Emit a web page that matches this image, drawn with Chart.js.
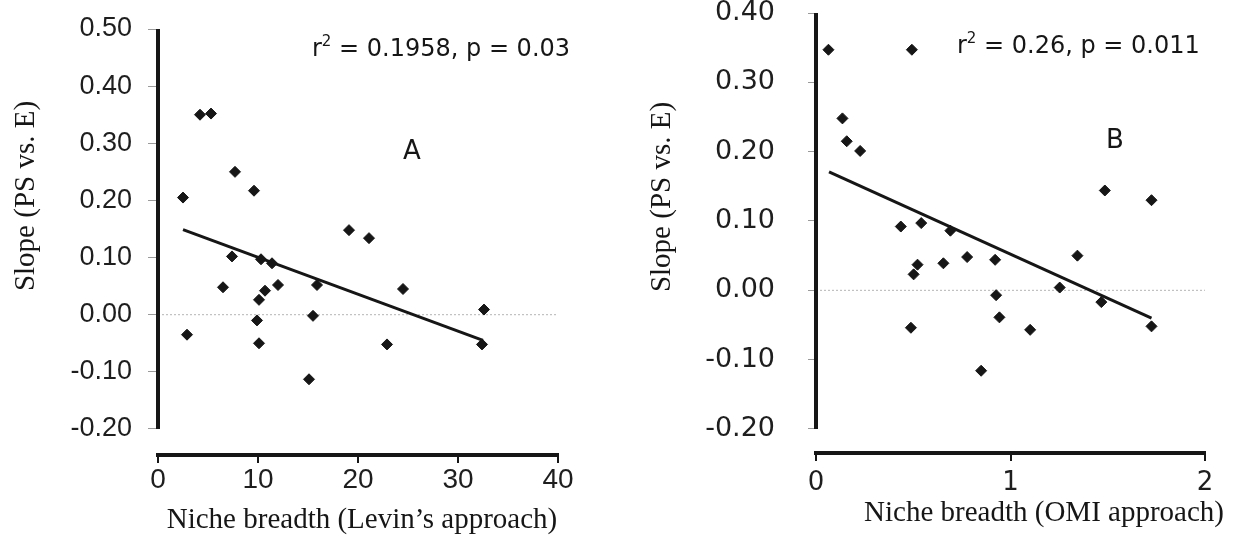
<!DOCTYPE html>
<html>
<head>
<meta charset="utf-8">
<script src="https://cdn.jsdelivr.net/npm/chart.js@4/dist/chart.umd.min.js"></script>
<style>
  html, body { margin: 0; padding: 0; background: #fff; }
  #wrap { position: relative; width: 1244px; height: 539px; overflow: hidden; }
  .panel { position: absolute; top: 0; width: 622px; height: 539px; }
  #panelA { left: 0; }
  #panelB { left: 622px; }
</style>
</head>
<body>
<div id="wrap">
  <div class="panel" id="panelA"><canvas id="chartA"></canvas></div>
  <div class="panel" id="panelB"><canvas id="chartB"></canvas></div>
</div>
<script>
// Panel A: niche breadth (Levin) against the slope of PS vs. E
const levinBreadth = [2.5, 2.9, 4.2, 5.3, 7.7, 9.6, 7.4, 6.5, 10.3, 11.4, 10.7, 10.1,
                      12.0, 9.9, 10.1, 15.9, 15.5, 15.1, 19.1, 21.1, 24.5, 22.9, 32.6, 32.4];
const levinSlope   = [0.205, -0.035, 0.350, 0.352, 0.250, 0.217, 0.102, 0.048, 0.097, 0.090, 0.042, 0.026,
                      0.052, -0.010, -0.050, 0.052, -0.002, -0.113, 0.148, 0.134, 0.045, -0.052, 0.009, -0.052];
const levinFitX = [2.5, 32.5];
const levinFitY = [0.149, -0.045];
const levinTicksX = [0, 10, 20, 30, 40];
const levinTicksY = [-0.2, -0.1, 0, 0.1, 0.2, 0.3, 0.4, 0.5];

// Panel B: niche breadth (OMI) against the slope of PS vs. E
const omiBreadth = [0.064, 0.493, 0.136, 0.158, 0.227, 0.436, 0.541, 0.691, 0.522, 0.502, 0.655, 0.777,
                    0.921, 0.926, 0.943, 0.488, 0.849, 1.101, 1.253, 1.344, 1.485, 1.725, 1.467, 1.725];
const omiSlope   = [0.347, 0.347, 0.248, 0.215, 0.201, 0.092, 0.097, 0.086, 0.037, 0.023, 0.039, 0.048,
                    0.044, -0.007, -0.039, -0.054, -0.116, -0.057, 0.004, 0.050, 0.144, 0.130, -0.017, -0.052];
const omiFitX = [0.067, 1.725];
const omiFitY = [0.171, -0.040];
const omiTicksX = [0, 1, 2];
const omiTicksY = [-0.2, -0.1, 0, 0.1, 0.2, 0.3, 0.4];

const INK = '#161616';

// Free text (axis titles, statistics, panel letter) drawn on top of the chart
function textPlugin(items) {
  return {
    id: 'panelText',
    afterDraw(chart) {
      const ctx = chart.ctx;
      items.forEach(it => {
        ctx.save();
        ctx.fillStyle = INK;
        ctx.translate(it.x, it.y);
        if (it.rotate) ctx.rotate(it.rotate);
        ctx.textBaseline = it.baseline || 'alphabetic';
        if (it.segments) {
          // inline superscript support
          let total = 0;
          it.segments.forEach(s => { ctx.font = s.font; total += ctx.measureText(s.t).width; });
          let cx = it.align === 'center' ? -total / 2 : 0;
          ctx.textAlign = 'left';
          it.segments.forEach(s => {
            ctx.font = s.font;
            ctx.fillText(s.t, cx, s.dy || 0);
            cx += ctx.measureText(s.t).width;
          });
        } else {
          ctx.font = it.font;
          ctx.textAlign = it.align || 'left';
          ctx.fillText(it.text, 0, 0);
        }
        ctx.restore();
      });
    }
  };
}

// Vertical axis line spanning only the labelled range
function yAxisLinePlugin(lo, hi) {
  return {
    id: 'yAxisLine',
    afterDraw(chart) {
      const y = chart.scales.y, a = chart.chartArea, ctx = chart.ctx;
      ctx.save();
      ctx.strokeStyle = INK;
      ctx.lineWidth = 4;
      ctx.beginPath();
      ctx.moveTo(a.left, y.getPixelForValue(hi));
      ctx.lineTo(a.left, y.getPixelForValue(lo));
      ctx.stroke();
      ctx.restore();
    }
  };
}

function buildPanel(canvasId, p) {
  const points = p.xs.map((x, i) => ({ x, y: p.ys[i] }));
  const fit = p.fitX.map((x, i) => ({ x, y: p.fitY[i] }));
  const zero = [{ x: p.ticksX[0], y: 0 }, { x: p.ticksX[p.ticksX.length - 1], y: 0 }];
  const yLo = p.ticksY[0], yHi = p.ticksY[p.ticksY.length - 1];

  return new Chart(document.getElementById(canvasId), {
    type: 'scatter',
    data: {
      datasets: [
        {
          data: points, order: 0,
          pointStyle: 'rectRot', pointRadius: 5.5, pointHoverRadius: 5.5,
          pointBackgroundColor: INK, pointBorderColor: INK, pointBorderWidth: 1
        },
        {
          data: fit, order: 1, showLine: true, pointRadius: 0,
          borderColor: INK, borderWidth: 3
        },
        {
          data: zero, order: 2, showLine: true, pointRadius: 0,
          borderColor: '#b4b4b4', borderWidth: 1, borderDash: [2, 2]
        }
      ]
    },
    options: {
      responsive: true,
      maintainAspectRatio: false,
      animation: false,
      events: [],
      layout: { padding: { left: 0, top: p.top, right: p.padRight, bottom: 0 } },
      plugins: { legend: { display: false }, tooltip: { enabled: false } },
      scales: {
        x: {
          type: 'linear',
          min: p.ticksX[0], max: p.ticksX[p.ticksX.length - 1],
          afterBuildTicks: s => { s.ticks = p.ticksX.map(v => ({ value: v })); },
          afterFit: s => { s.height = 539 - p.bottom; s.paddingLeft = 0; s.paddingRight = 0; },
          border: { display: true, color: INK, width: 4 },
          grid: { drawOnChartArea: false, drawTicks: true, tickLength: 8, color: INK, lineWidth: 2 },
          ticks: {
            autoSkip: false, maxRotation: 0, padding: p.xPad, color: '#1e1e1e',
            font: { family: p.tickFont, size: p.xTickSize },
            callback: v => String(v)
          }
        },
        y: {
          type: 'linear',
          min: p.yMin, max: yHi,
          afterBuildTicks: s => { s.ticks = p.ticksY.map(v => ({ value: v })); },
          afterFit: s => { s.width = p.left; s.paddingTop = 0; s.paddingBottom = 0; },
          border: { display: false },
          grid: { drawOnChartArea: false, drawTicks: true, tickLength: p.yTick, color: '#9a9a9a', lineWidth: 1 },
          ticks: {
            autoSkip: false, padding: p.yPad, color: '#1e1e1e',
            font: { family: p.tickFont, size: p.yTickSize },
            callback: v => Number(v).toFixed(2)
          }
        }
      }
    },
    plugins: [yAxisLinePlugin(yLo, yHi), textPlugin(p.texts)]
  });
}

const serif = '29px "Liberation Serif", "Times New Roman", serif';
const sans = '"DejaVu Sans", Verdana, sans-serif';

buildPanel('chartA', {
  xs: levinBreadth, ys: levinSlope, fitX: levinFitX, fitY: levinFitY,
  ticksX: levinTicksX, ticksY: levinTicksY,
  left: 158, top: 29, padRight: 64, bottom: 455,
  yMin: 0.5 - (455 - 29) / 571.4,
  tickFont: '"Liberation Sans", Arial, sans-serif', xTickSize: 28, yTickSize: 27,
  xPad: 0, yPad: 16, yTick: 10,
  texts: [
    { text: 'Slope (PS vs. E)', font: serif, x: 26, y: 196, rotate: -Math.PI / 2, align: 'center', baseline: 'middle' },
    { text: 'Niche breadth (Levin\u2019s approach)', font: serif, x: 362, y: 528, align: 'center' },
    { segments: [
        { t: 'r', font: '24px ' + sans },
        { t: '2', font: '15px ' + sans, dy: -10 },
        { t: ' = 0.1958, p = 0.03', font: '24px ' + sans }
      ], x: 312, y: 56 },
    { text: 'A', font: '26px ' + sans, x: 412, y: 159, align: 'center' }
  ]
});

buildPanel('chartB', {
  xs: omiBreadth, ys: omiSlope, fitX: omiFitX, fitY: omiFitY,
  ticksX: omiTicksX, ticksY: omiTicksY,
  left: 194, top: 13, padRight: 39, bottom: 453,
  yMin: 0.4 - (453 - 13) / 693.3,
  tickFont: sans, xTickSize: 26, yTickSize: 27,
  xPad: 7, yPad: 33, yTick: 8,
  texts: [
    { text: 'Slope (PS vs. E)', font: serif, x: 40, y: 197, rotate: -Math.PI / 2, align: 'center', baseline: 'middle' },
    { text: 'Niche breadth (OMI approach)', font: serif, x: 422, y: 521, align: 'center' },
    { segments: [
        { t: 'r', font: '24px ' + sans },
        { t: '2', font: '15px ' + sans, dy: -10 },
        { t: ' = 0.26, p = 0.011', font: '24px ' + sans }
      ], x: 335, y: 53 },
    { text: 'B', font: '26px ' + sans, x: 493, y: 148, align: 'center' }
  ]
});
</script>
</body>
</html>
